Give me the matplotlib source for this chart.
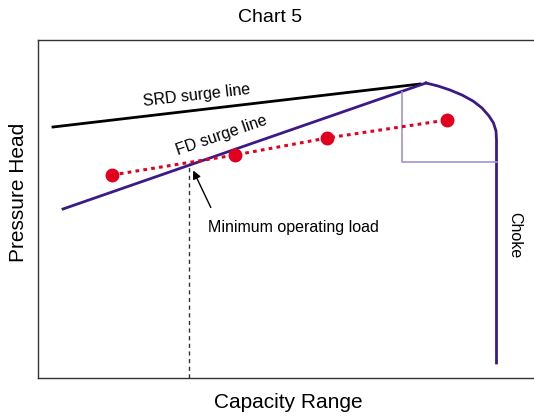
import matplotlib.pyplot as plt

plt.rcParams['font.family'] = ['Liberation Sans', 'DejaVu Sans']

# surge lines (capacity, head)
srd_x = [15, 382]
srd_y = [251, 294]
fd_x = [25, 388]
fd_y = [169, 295]

# performance curve from the peak round to choke
curve_x = [388, 400, 412, 424, 435, 444, 451, 455.5, 458, 458.5, 458.5]
curve_y = [295, 292, 288, 283, 277, 270, 262, 255, 247, 238, 15]

# operating box
box_x = [364, 364, 459]
box_y = [286, 216, 216]

# operating points
op_x = [74, 197, 289, 409]
op_y = [203, 223, 240, 258]

min_load_x = 151
min_load_y = 215

fig = plt.figure(figsize=(5.34, 4.17), dpi=100)
ax = fig.add_axes([38 / 534, 39 / 417, 507 / 534, 338 / 417])
ax.set_xlim(0, 507)
ax.set_ylim(0, 338)

purple = '#3b1a87'
ax.plot(srd_x, srd_y, color='black', lw=2)
ax.plot(fd_x, fd_y, color=purple, lw=2)
ax.plot(curve_x, curve_y, color=purple, lw=2, solid_joinstyle='round')
ax.plot(box_x, box_y, color='#a493d6', lw=1.2)
ax.plot([min_load_x, min_load_x], [0, min_load_y], color='#333333', lw=1, ls=(0, (3, 2.5)))
ax.plot(op_x, op_y, color='#e2001f', lw=2.2, ls=(0, (1.2, 1.4)),
        marker='o', ms=9, mec='#e2001f', mfc='#e2001f')

ax.annotate('', xy=(154, 210), xytext=(174, 168),
            arrowprops=dict(arrowstyle='-|>', color='black', lw=1, mutation_scale=12))
ax.text(170, 151, 'Minimum operating load', fontsize=11.5, va='center', ha='left')
ax.text(159, 283, 'SRD surge line', fontsize=11.5, rotation=6.5, ha='center', va='center',
        rotation_mode='anchor')
ax.text(184, 243, 'FD surge line', fontsize=11.5, rotation=19, ha='center', va='center',
        rotation_mode='anchor')
ax.text(477, 143, 'Choke', fontsize=11.5, rotation=-90, ha='center', va='center')

ax.set_xticks([])
ax.set_yticks([])
for s in ax.spines.values():
    s.set_linewidth(1)
    s.set_color('#333333')

fig.text(270 / 534, 1 - 17 / 417, 'Chart 5', fontsize=14, ha='center', va='center')
fig.text(288 / 534, 1 - 402 / 417, 'Capacity Range', fontsize=15, ha='center', va='center')
fig.text(19 / 534, 1 - 192 / 417, 'Pressure Head', fontsize=15, ha='center', va='center',
         rotation=90)

fig.savefig('out.png', dpi=100)
